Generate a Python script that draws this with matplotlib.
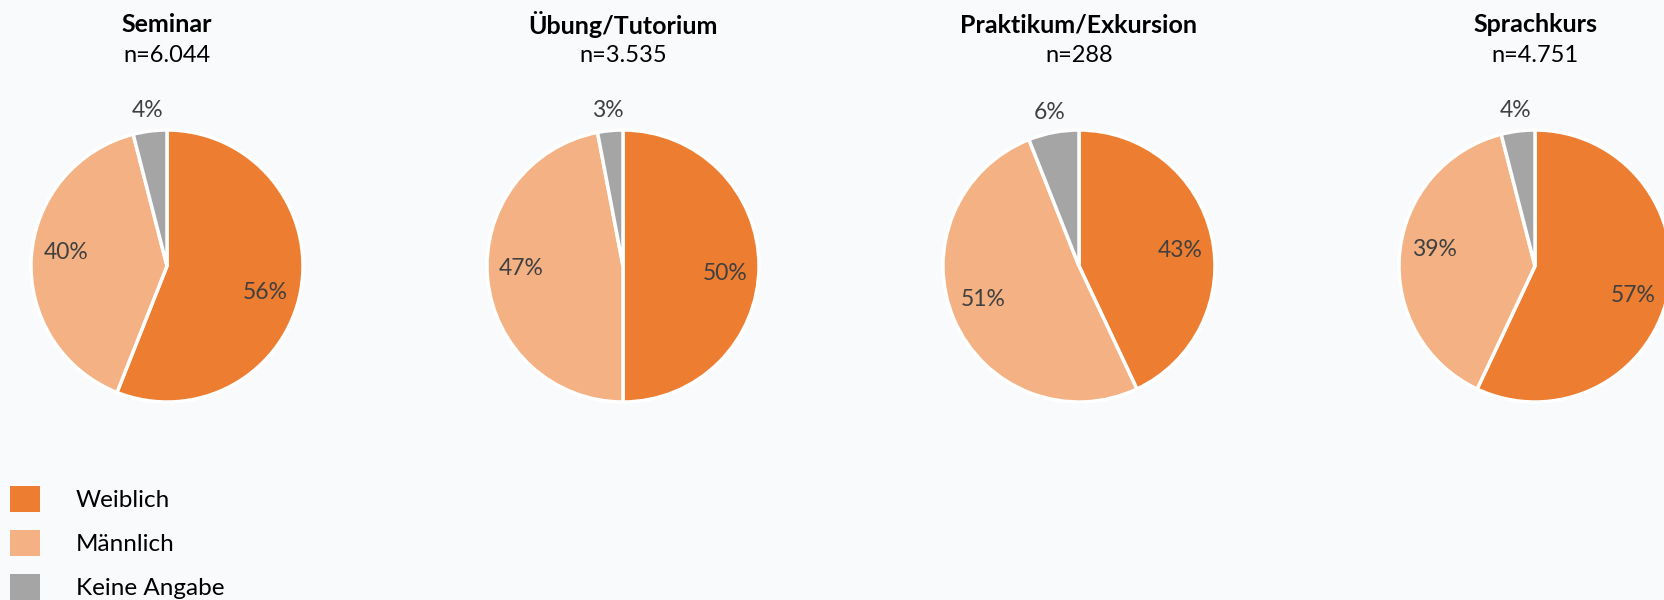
import matplotlib.pyplot as plt
from matplotlib.patches import Patch
import numpy as np

plt.rcParams['font.family'] = ['Lato', 'DejaVu Sans']

# Data
kurse = ['Seminar', 'Übung/Tutorium', 'Praktikum/Exkursion', 'Sprachkurs']
n_labels = ['n=6.044', 'n=3.535', 'n=288', 'n=4.751']
weiblich = [56, 50, 43, 57]
maennlich = [40, 47, 51, 39]
keine_angabe = [4, 3, 6, 4]

kategorien = ['Weiblich', 'Männlich', 'Keine Angabe']
farben = ['#ED7D31', '#F4B183', '#A5A5A5']
bg = '#F8FAFC'

W, H = 1664, 600
fig = plt.figure(figsize=(W / 100, H / 100), dpi=100, facecolor=bg)

r = 136          # pie radius in pixels
cy = H - 266     # pie centre (pixels from bottom)
x0, dx = 167, 456

for i, kurs in enumerate(kurse):
    cx = x0 + dx * i
    ax = fig.add_axes([(cx - 1.5 * r) / W, (cy - 1.5 * r) / H, 3 * r / W, 3 * r / H])
    ax.set_facecolor(bg)
    werte = [weiblich[i], maennlich[i], keine_angabe[i]]
    wedges, _ = ax.pie(werte, colors=farben, startangle=90, counterclock=False,
                       radius=1, wedgeprops=dict(edgecolor='white', linewidth=2.5))
    for w, v in zip(wedges, werte):
        mid = np.deg2rad((w.theta1 + w.theta2) / 2 - (0 if v < 10 else 4))
        dist = 1.15 if v < 10 else 0.75
        ax.text(dist * np.cos(mid), dist * np.sin(mid), f'{v}%', ha='center', va='center',
                fontsize=16.5, color='#404040')
    ax.set_xlim(-1.5, 1.5)
    ax.set_ylim(-1.5, 1.5)
    ax.set_aspect('equal')
    ax.axis('off')
    ax.text(0, (H - 25 - cy) / r, kurs, ha='center', va='center', fontsize=18,
            fontweight='bold', color='black')
    ax.text(0, (H - 55 - cy) / r, n_labels[i], ha='center', va='center', fontsize=17,
            color='black')

handles = [Patch(facecolor=c, edgecolor='none') for c in farben]
fig.legend(handles, kategorien, loc='upper left', bbox_to_anchor=(10 / W, (H - 486) / H),
           frameon=False, fontsize=17.5, handlelength=1.25, handleheight=1.25,
           handletextpad=1.45, labelspacing=0.75, borderpad=0, borderaxespad=0)

fig.savefig('out.png', dpi=100, facecolor=bg)
